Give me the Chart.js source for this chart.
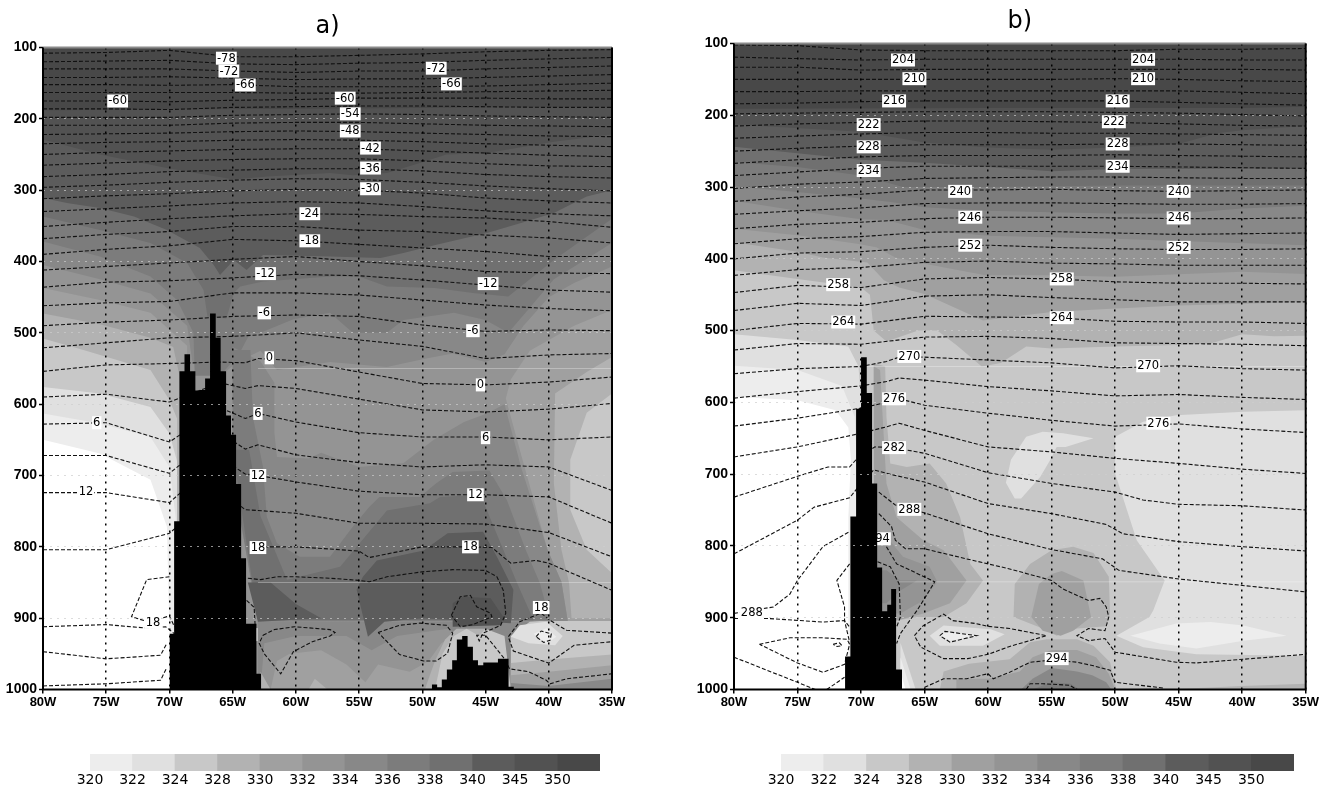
<!DOCTYPE html>
<html>
<head>
<meta charset="utf-8">
<title>Cross sections a) and b)</title>
<script src="https://cdn.jsdelivr.net/npm/chart.js@4"></script>
<style>
  html, body { margin: 0; background: #fff; }
  #page { position: relative; width: 1325px; height: 791px; overflow: hidden; }
  canvas { position: absolute; }
</style>
</head>
<body>
<div id="page">
  <canvas id="panelA" width="660" height="725" style="left:0;top:0"></canvas>
  <canvas id="panelB" width="634" height="725" style="left:691px;top:0"></canvas>
  <canvas id="barA" width="590" height="46" style="left:60px;top:745px"></canvas>
  <canvas id="barB" width="590" height="46" style="left:740px;top:745px"></canvas>
</div>
<script>
// colour bar
const barLabels = ['320','322','324','328','330','332','334','336','338','340','345','350']
const barColors = ['#ededed','#e0e0e0','#c8c8c8','#b2b2b2','#a0a0a0','#949494','#888888','#7c7c7c','#707070','#5c5c5c','#525252','#484848']

// ---- panel a: filled zones as [lon W, hPa], painted in list order
const aZone1 = [[80,650],[75.5,669],[71.5,706],[70.2,772],[70,921],[69.8,1000],[35,1000],[35,100],[80,100]]
const aZone2 = [[80,613],[75.5,627],[71.5,646],[70,688],[69.5,760],[69.5,1000],[35,1000],[35,100],[80,100]]
const aZone3 = [[80,576],[75.5,585],[71.5,604],[70,641],[69.4,680],[69.4,1000],[35,1000],[35,100],[80,100]]
const aZone4 = [[80,508],[76.8,524],[71.5,552],[70,594],[69.4,620],[69.4,1000],[35,1000],[35,100],[80,100]]
const aZone5 = [[80,473],[75.5,488],[71.5,507],[69.7,520],[69.2,560],[69.2,1000],[35,1000],[35,100],[80,100]]
const aZone6 = [[80,437],[75.5,454],[71.5,472],[68.6,518],[68.6,1000],[35,1000],[35,100],[80,100]]
const aEastA0 = [[35,468],[38,490],[41.5,525],[43,565],[43.4,592],[42.2,670],[40.1,804],[39,849],[38.5,904],[35,904]]
const aEastB2 = [[35,534],[37,555],[39.5,585],[39.6,711],[39,804],[38.4,850],[38.2,900],[35,900]]
const aEastC8 = [[35,585],[37,612],[38.3,678],[38.3,748],[37,804],[35,837]]
const aZone7 = [[80,405],[75.5,425],[71.5,445],[68.6,490],[68.2,540],[66,560],[64.5,540],[62.8,525],[61.5,552],[57.3,541],[52.8,548],[49.7,536],[47.6,529],[45,541],[43.5,530],[42,490],[40,450],[38,430],[35,407],[35,100],[80,100]]
const aZone8 = [[80,372],[75.5,393],[71.5,421],[69.4,454],[68.1,500],[68,560],[66,560],[64.5,530],[63.6,500],[62.8,500],[60.2,481],[57.3,472],[55.5,500],[52.8,500],[51.5,482],[47.5,472],[45,482],[43.2,500],[41.5,465],[39.6,425],[35,374],[35,100],[80,100]]
const aZone9 = [[80,337],[75.5,356],[71.5,374],[68.6,402],[67.3,440],[67,477],[65.5,480],[64.9,444],[64.4,435],[62.6,428],[57.3,421],[55,421],[52.8,435],[49,437],[46,444],[43.2,449],[39.6,398],[35,340],[35,100],[80,100]]
const aZone10 = [[80,311],[78.1,318],[75.5,325],[72.8,337],[70.2,356],[67.6,381],[66.5,405],[66,419],[64.9,398],[63.9,412],[62.6,391],[57.3,393],[53.3,395],[51.5,388],[48.8,376],[44.9,360],[42.2,346],[39.6,332],[37,309],[35,300],[35,100],[80,100]]
const aZone11 = [[80,229],[75.5,250],[70.2,269],[64.9,285],[62.3,281],[57.3,276],[55.5,279],[52.8,276],[50.2,262],[48.1,250],[44.9,248],[39.6,232],[35,222],[35,100],[80,100]]
const aZone12 = [[80,188],[60,186],[35,183],[35,100],[80,100]]
// low levels east of the ridge
const aLow88 = [[63,1000],[63,905],[41.5,905],[43,925],[43,1000]]
const aLow94 = [[62.8,1000],[62.5,935],[60,925],[56,925],[54,945],[52,925],[48,915],[47,925],[48,1000]]
const aLowA0 = [[62,1000],[61.5,960],[60.5,950],[58,945],[56,965],[54.5,990],[53.5,965],[51,975],[49.5,960],[48.5,935],[47.5,925],[47,1000]]
const aLowB2 = [[49.8,1000],[49,960],[48.2,930],[47.3,915],[45,915],[44,925],[43,1000]]
const aLowC8 = [[49,1000],[48.4,950],[47.5,925],[46.5,915],[45.5,925],[45,915],[43.5,925],[43,1000]]
const aLowEdge = [[62.8,975],[62,1000],[62.8,1000]]
const aLowSpot = [[59,1000],[58.5,985],[57.5,1000]]
const aRightC8 = [[43,925],[41.5,905],[39.9,903],[38.5,904],[35,904],[35,1000],[43,1000]]
const aRightE0 = [[42.3,910],[40.2,905],[38.9,925],[39.5,938],[41.6,935],[43,926]]
const aRightEd = [[41.2,922],[40.2,914],[39.4,926],[40.2,936]]
const aRightB2 = [[43,963],[40,958],[35,951],[35,1000],[43,1000]]
const aRightA0 = [[43,980],[40,975],[35,966],[35,1000],[43,1000]]
const aRight88 = [[43,991],[40,995],[35,985],[35,1000],[43,1000]]
// the warm dome near 50W
const aDome7 = [[65,520],[62.8,540],[61.7,570],[61.7,640],[61.5,674],[59,676],[58,668],[55,688],[51.5,683],[49.1,650],[46.7,625],[44.9,613],[43.5,600],[42.2,688],[40.1,804],[39,849],[38.5,904],[63,905],[65,700]]
const aDome8 = [[65,524],[63.6,524],[63.4,618],[62.6,688],[62.3,758],[61.5,795],[59.7,814],[57.3,814],[55.5,772],[54.2,744],[53.4,730],[50.2,730],[48.9,711],[47.6,695],[44.7,693],[43.3,735],[41.8,805],[40.7,851],[39.9,903],[60,903],[63,900],[65,700]]
const aDome9 = [[65,664],[63.7,664],[62.8,757],[60.7,846],[56.5,828],[52.8,749],[49.4,739],[48.6,730],[45.4,727],[42.5,851],[41.2,903],[63,903]]
const aDome10 = [[55.2,860],[54.7,842],[53.6,819],[49.9,805],[48,781],[45.2,779],[44.1,814],[42.8,860],[43,907],[45,905],[50,900],[53,905],[54.3,926]]
const aDome10w = [[63.8,850],[62,850],[60,880],[58,900],[63,905]]
const aDome11 = [[47.6,879],[46.8,870],[44.6,872],[43.6,898],[43.8,910],[47.6,912]]

// ridges: lon W at the start of each bin, hPa at its top
const aRidgeLon = [70,69.63,69.21,68.81,68.37,67.95,67.58,67.18,66.79,66.34,65.95,65.52,65.13,64.73,64.33,63.94,63.12,62.74]
const aRidgeTop = [922,764,554,530,554,581,580,564,473,507,554,616,643,712,816,908,978,1000]
const aRidge2Lon = [49.25,48.83,48.46,48.06,47.64,47.27,46.85,46.42,46,45.6,45.18,44.02,43.18,42.76]
const aRidge2Top = [993,997,986,972,959,930,925,940,959,966,962,957,996,1000]

// ---- panel a: dashed temperature contours, hPa at the columns below
const aColsHigh = [80,75,70,65,60,55,50,45,40,35]
const aRowsHigh = [
  [108,107,104,113,113,111,109,106,104,103],
  [120,119,118,123,124,122,121,118,116,114],
  [130,130,130,133,135,133,133,130,128,126],
  [142,142,141,143,145,144,144,142,140,138],
  [152,152,153,152,155,155,155,154,152,150],
  [163,163,163,163,164,164,163,162,161,160],
  [175,175,176,174,173,171,171,171,172,172],
  [186,186,187,184,183,182,182,183,184,184],
  [198,198,198,195,194,193,194,196,197,198],
  [209,209,209,206,205,205,207,209,210,211],
  [222,221,220,218,217,218,220,222,224,225],
  [235,233,232,230,229,230,232,235,237,239],
  [250,247,245,243,242,242,245,248,251,253],
  [265,262,259,257,256,256,259,263,266,267],
  [281,278,274,272,270,270,273,278,281,283],
  [296,293,289,286,284,285,289,294,298,301],
  [312,308,305,301,299,300,304,311,315,318],
  [330,326,322,318,316,318,323,329,333,336],
  [351,345,340,336,333,334,337,339,344,352],
  [368,362,358,351,351,356,358,363,367,374],
  [390,383,378,369,371,376,381,386,393,393],
  [412,407,402,397,393,400,406,414,416,417],
  [436,429,427,423,418,420,426,433,440,443],
  [462,458,456,444,444,447,454,461,466,469],
  [490,485,482,477,475,477,489,498,496,497],
  [521,514,507,505,500,510,519,536,531,529]
]
const aColsLow = [80,75,70,66,64,63,60,55,50,45,40,35]
const aRowsLow = [
  [554,545,543,541,542,536,539,555,571,573,569,562],
  [590,586,597,570,578,574,578,593,608,611,607,599],
  [628,626,653,605,620,613,625,640,646,646,650,646],
  [672,672,697,640,663,657,671,682,688,685,688,721],
  [724,724,738,675,698,700,709,722,727,727,730,767],
  [804,804,781,720,748,749,753,767,767,768,780,814]
]
const aLine18e = [[63,800],[60,800],[57.3,803],[55,806],[54.2,815],[50,800],[46,800],[44.5,801],[43,823],[41,819],[40,823],[35,861]]
const aLine18w = [[70,842],[71.8,846],[73,898],[71.7,905],[70,897],[69.6,912]]
const aLine21e = [[63.8,844],[62.8,846],[61.5,842],[60,842],[57.3,844],[55,847],[54.2,849],[52.8,842],[50,835],[47.6,832],[45,833],[44.1,842],[43.6,861],[43.4,893],[43.8,910],[45.2,921],[45.5,932],[45.7,924],[45,924],[43.5,957],[43.1,971],[41.6,975],[40.2,987],[39.9,992],[38.6,985],[35,978]]
const aLine21w = [[80,912],[75,909],[71.7,914],[70.3,912],[69.6,922]]
const aLine24w = [[80,947],[75,957],[70.7,952],[70.2,935]]
const aLine27w = [[80,995],[75,992],[70.7,987],[70.2,969]]
const aLineSpur = [[63.9,875],[63.3,885],[63.2,918]]
const aLoopW = [[62.6,924],[61.7,916],[60.1,912],[57.3,916],[56.9,920],[57.3,925],[58.7,933],[60.2,947],[61.2,978],[62.5,950],[62.9,935],[62.6,924]]
const aLoopM = [[53.5,920],[51.8,910],[50.2,907],[48.1,910],[47.6,921],[48,949],[48.9,960],[49.9,960],[51.8,951],[53.5,920]]
const aLoopN = [[47.7,896],[47,870],[46.2,868],[45.7,884],[44.6,893],[44.5,898],[46,909],[47,912],[47.7,896]]
const aLoopE1 = [[35,921],[38.6,917],[39.9,903],[40.6,893],[42.3,905],[43.2,926],[42.8,946],[40,963],[38,938],[35,933]]
const aLoopE2 = [[41,926],[40.6,918],[39.8,922],[39.9,931],[40.4,934],[41,926]]

const aLabels = [
  ['-78',65.5,115],['-72',65.3,133],['-66',64,152.5],['-60',74.1,175],['-60',56.1,171],['-54',55.7,193],
  ['-48',55.7,217],['-42',54.1,241],['-36',54.1,269],['-30',54.1,298],['-24',58.9,333],['-18',58.9,371],
  ['-12',62.4,417],['-6',62.5,472],['0',62.1,535],['6',63,613],['12',63,700],['18',63,801],
  ['-72',48.9,129],['-66',47.7,151],['-12',44.8,431],['-6',46,497],['0',45.4,573],['6',45,647],
  ['12',45.8,727],['18',46.2,800],['18',40.6,885],['6',75.75,626],['12',76.6,723],['18',71.3,906]
]
const aLabelsBehind = [['24',63.7,923]]

// ---- panel b: filled zones
const bZone1 = [[80,592],[75,597],[72,611],[71,635],[70.8,680],[71,760],[71,1000],[35,1000],[35,100],[80,100]]
const bZone2 = [[80,549],[75,555],[71.5,577],[70.5,620],[70.3,700],[70.2,760],[70.2,1000],[35,1000],[35,100],[80,100]]
const bZone3 = [[80,505],[75,513],[71,522],[70.2,550],[70,600],[70,1000],[35,1000],[35,100],[80,100]]
const bZone4 = [[80,416],[75,428],[70,440],[69.3,450],[69,500],[68,515],[65.5,500],[64,500],[62.5,520],[60.5,550],[59,545],[57,522],[55,525],[50,522],[45,520],[42.5,518],[40,505],[37.5,508],[35,507],[35,100],[80,100]]
const bZone5 = [[80,377],[75,390],[73,398],[69.5,405],[68.2,430],[67,440],[65,449],[60.4,486],[58.3,481],[55,474],[50.7,470],[45,465],[35,460],[35,100],[80,100]]
const bZone6 = [[80,358],[75,367],[70.3,379],[68.8,384],[67.3,398],[65,407],[60.2,423],[55,423],[50,425],[40,418],[35,421],[35,100],[80,100]]
const bZone7 = [[80,319],[75,333],[70,345],[68,346],[65,360],[60,368],[50,372],[45,375],[35,381],[35,100],[80,100]]
const bZone8 = [[80,299],[75,307],[70,316],[67.5,321],[65,328],[60,333],[55,335],[50,337],[45,337],[40,330],[35,326],[35,100],[80,100]]
const bZone9 = [[80,265],[75,272],[70,284],[66.7,300],[60,300],[50,298],[35,298],[35,100],[80,100]]
const bZone10 = [[80,244],[75,253],[70,262],[65,266],[60,272],[55,278],[50,275],[45,275],[35,274],[35,100],[80,100]]
const bZone11 = [[80,213],[70,223],[65,238],[60,245],[55,248],[50,245],[45,240],[42,225],[40,221],[35,215],[35,100],[80,100]]
const bZone12 = [[80,191],[60,190],[40,190],[35,188],[35,100],[80,100]]
const bEastE0 = [[50,648],[47.8,627],[45.2,618],[39.9,613],[35,611],[35,953],[43.6,951],[47.8,941],[49.9,925],[47.3,899],[47,890],[46.1,848],[48.3,792],[50,699]]
const bEastEd = [[48.8,925],[45.2,908],[42.5,906],[39.9,911],[36.5,925],[39.9,932],[43.6,943],[46.5,936]]
const bEastB2 = [[46,1000],[40,995],[35,992],[35,1000]]
const bMidE0 = [[57,648],[55.7,641],[54.1,643],[51.7,650],[53.9,662],[54.6,662],[55.1,680],[55.9,704],[57.4,734],[57.9,734],[58.6,712],[58.2,680]]
const bLeeB2 = [[68.8,546],[68.1,550],[68,620],[67.7,685],[66.4,690],[64.6,685],[63.3,713],[62.2,760],[61.4,825],[60.4,848],[61.7,880],[63.5,899],[65.6,899],[67.2,904],[69,904],[69,546]]
const bLeeA0 = [[68.5,555],[68.3,620],[68,713],[67.2,760],[65.1,792],[63.5,806],[61.7,848],[63,880],[65.1,894],[67.2,904],[69,904],[69,550]]
const bLee94 = [[68,787],[66.7,815],[64.6,829],[64,850],[65.1,876],[66.9,894],[69,894],[69,787]]
const bLee88 = [[68,834],[66.9,848],[65.6,848],[66.9,862],[68,880],[69,880],[69,834]]
const bFootE0 = [[66.9,935],[65.7,1000],[66.9,1000]]
const bFootEd = [[66.9,955],[66.1,1000],[66.9,1000]]
const bFootWh = [[66.9,975],[66.5,1000],[66.9,1000]]
const bLowE0 = [[64.6,925],[63.5,911],[59.8,916],[58.7,923],[60.4,939],[62.5,939],[63.8,939]]
const bLowEd = [[63.8,925],[63.3,920],[60.6,925],[63,932]]
const bDomeB2 = [[58,899],[57.9,853],[56.7,825],[55,806],[53.3,801],[51.7,810],[50.5,843],[50.4,894],[50.7,912],[53,915],[54.6,925],[55.7,915]]
const bDomeA0 = [[56.6,899],[56,853],[55,839],[54.2,835],[52.5,848],[52,890],[51.9,899],[53.3,918],[54.3,925],[55.7,918]]
const bBaseB2 = [[63.8,1000],[63.5,975],[61.5,964],[58.3,958],[56.7,934],[55.4,930],[53,930],[51.7,939],[50.4,962],[49.9,1000]]
const bBaseA0 = [[62.5,1000],[62.5,985],[60,985],[57.5,975],[56.5,955],[55,945],[53,945],[51.5,955],[50.5,978],[50,1000]]
const bBase88 = [[57.4,1000],[56.5,985],[55,970],[53,975],[51.8,980],[50.7,990],[50.3,1000]]
const bBase7c = [[56.5,1000],[55,990],[53.5,992],[52.8,1000]]

const bRidgeLon = [71.26,70.84,70.39,70,69.55,69.13,68.73,68.34,67.94,67.63,67.24,66.77]
const bRidgeTop = [954,759,609,537,587,713,830,891,882,860,972,1000]

// ---- panel b: dashed temperature contours
const bColsHigh = [80,75,70,65,60,55,50,45,40,35]
const bRowsHigh = [
  [102,103,109,110,110,110,110,108,108,107],
  [119,121,123,122,122,122,122,122,123,123],
  [133,133,137,136,136,136,136,136,136,137],
  [150,150,150,150,150,150,149,150,152,153],
  [167,167,166,166,166,166,166,166,168,170],
  [184,183,181,180,180,180,180,182,184,186],
  [198,197,196,195,195,195,196,197,199,201],
  [215,212,210,208,208,209,210,212,214,215],
  [232,229,226,224,224,225,225,226,227,228],
  [250,246,243,241,241,241,240,240,241,242],
  [267,262,258,256,256,256,255,256,257,258],
  [284,279,274,271,271,271,271,272,273,274],
  [302,296,293,288,287,286,286,287,288,288],
  [320,314,310,304,304,303,305,306,305,304],
  [338,333,329,323,322,322,323,324,324,323],
  [358,352,349,344,342,342,343,344,344,343],
  [379,372,369,363,362,362,364,366,365,364],
  [400,392,390,384,381,384,386,387,387,386],
  [423,415,412,405,403,406,407,409,409,409],
  [447,437,440,428,426,428,432,434,434,435],
  [472,462,465,452,450,454,457,460,460,460],
  [500,490,491,480,481,482,487,488,488,490],
  [527,518,519,509,508,511,517,518,519,521]
]
const bColsLow = [80,75,70,68,67,65,60,55,50,45,40,35]
const bRowsLow = [
  [560,553,550,543,537,537,541,545,552,549,553,555],
  [594,585,577,571,566,569,578,584,591,589,593,596],
  [633,622,608,600,595,604,615,625,633,630,637,642],
  [676,662,643,634,629,639,662,669,678,685,693,699]
]
const bLine282 = [[80,732],[75,703],[72.6,690],[70.9,690],[70.2,676],[68.9,662],[67.4,663],[65,671],[60,698],[55,713],[50,725],[47.8,736],[45,742],[40,744],[35,750]]
const bLine285 = [[80,811],[75,764],[73.7,746],[70.9,733],[70,713],[69,694],[67.5,701],[65,711],[60,741],[55,755],[50.7,770],[49.4,783],[45,794],[40,801],[35,807]]
const bLine288w = [[80,894],[76.9,885],[75.6,867],[75,848],[73,801],[71.9,790],[70.9,780]]
const bLine288e = [[68.6,725],[67.3,743],[65,754],[60,783],[55,805],[51,818],[49.7,834],[45,846],[35,864]]
const bLine291e = [[68.6,755],[67.6,773],[67.3,792],[66.5,804],[65,804],[61.7,818],[58.3,832],[55,848],[54.1,860],[52.1,876],[51.2,873],[50.7,885],[50.5,899],[50.8,918],[52.1,915],[53,925],[52.1,932],[50.8,929],[50,948],[45.2,962],[43.6,963],[35,951]]
const bLine294 = [[68,801],[67.2,825],[66.1,834],[64.2,850],[65.1,876],[65.6,890],[66.9,922],[67.2,936]]
const bLine297 = [[68.7,822],[67.7,829],[67,853],[66.9,899],[67.2,913]]
const bLine291w = [[70.9,825],[71.9,848],[71.3,885],[71.3,904],[70.9,934]]
const bLineWest = [[80,901],[77.4,901],[73,906],[71.3,904],[70.9,913]]
const bLoopWest = [[78,937],[75.6,928],[73,928],[71.1,930],[70.9,937],[71.3,965],[73,976],[75,963],[78,937]]
const bLoopTiny = [[72.2,937],[71.7,935],[71.5,939],[71.9,940],[72.2,937]]
const bFloorW1 = [[80,955],[75,990],[73.6,1000]]
const bFloorW2 = [[72.7,1000],[71.3,983]]
const bLoopLow = [[65.8,925],[65.1,911],[63.5,895],[62.8,904],[61,908],[60,912],[58.3,915],[55.4,925],[58.3,940],[60,951],[61.6,957],[63.5,957],[65.3,941],[65.8,925]]
const bLoopIn = [[63.8,925],[63.4,919],[60.9,925],[63,934],[63.8,925]]
const bFloorE = [[65,997],[63.5,985],[61.7,985],[60,978],[59.6,985],[58.3,976],[56.7,962],[55,959],[53,962],[51.7,967],[50.4,973],[50,990],[46.2,998]]
const bFloorIn = [[57,1000],[56.7,992],[55.7,992],[53.6,994],[53,1000]]

const bLabels = [
  ['204',66.7,123],['210',65.8,149],['216',67.4,180],['222',69.4,213],['228',69.4,244],['234',69.4,277],
  ['240',62.2,306],['246',61.4,342],['252',61.4,381],['258',71.8,436],['264',71.4,488],
  ['204',47.8,122],['210',47.8,149],['216',49.8,180],['222',50.1,209],['228',49.8,240],['234',49.8,271],
  ['240',45,306],['246',45,343],['252',45,384],['258',54.2,428],['264',54.2,482],
  ['270',66.2,536],['276',67.4,595],['282',67.4,663],['288',66.2,749],['288',78.6,893],
  ['270',47.4,549],['276',46.6,629],['294',54.6,957]
]
const bLabelsBehind = [['294',68.6,790]]

// thin pale seams in the shading
const aSeams = [[[63,550],[35,550]],[[63,850],[35,850]]]
const bSeams = [[[70,550],[35,550]],[[67,850],[35,850]]]

const toPoints = pts => pts.map(p => ({x: p[0], y: p[1]}))
const rowPoints = (cols, row) => cols.map((c, i) => ({x: c, y: row[i]}))

function shade(pts, color) {
  return {data: toPoints(pts), showLine: true, pointRadius: 0, borderWidth: 0, borderColor: color,
    backgroundColor: color, fill: 'shape', tension: 0}
}
function dashed(points) {
  return {data: points, showLine: true, pointRadius: 0, borderWidth: 1.1, borderColor: '#111',
    borderDash: [4, 2], fill: false, tension: 0}
}
function seam(pts) {
  return {data: toPoints(pts), showLine: true, pointRadius: 0, borderWidth: 1,
    borderColor: 'rgba(255,255,255,0.3)', fill: false, tension: 0}
}
function ridge(lon, top) {
  return {data: lon.map((l, i) => ({x: l, y: top[i]})), showLine: true, pointRadius: 0, borderWidth: 0,
    backgroundColor: '#000', borderColor: '#000', stepped: true, fill: {value: 1000}}
}

function drawLabel(chart, item) {
  const ctx = chart.ctx
  const x = chart.scales.x.getPixelForValue(item[1])
  const y = chart.scales.y.getPixelForValue(item[2])
  ctx.save()
  ctx.font = '11.5px "DejaVu Sans"'
  const w = ctx.measureText(item[0]).width + 2
  ctx.fillStyle = '#fff'
  ctx.fillRect(x - w / 2, y - 6.5, w, 13)
  ctx.fillStyle = '#000'
  ctx.textAlign = 'center'
  ctx.textBaseline = 'middle'
  ctx.fillText(item[0], x, y + 0.5)
  ctx.restore()
}

function barOrWhite(i) { return i === 0 ? '#ffffff' : barColors[i - 1] }

function makePanel(id, title, titleTop, areaTop, rightPad, shades, lines, seams, ridges, labels, behind) {
  let datasets = []
  shades.forEach(s => datasets.push(shade(s[0], barOrWhite(s[1]))))
  seams.forEach(s => datasets.push(seam(s)))
  lines.forEach(l => datasets.push(dashed(l)))
  const lastLine = datasets.length - 1
  ridges.forEach(r => datasets.push(ridge(r[0], r[1])))
  datasets.forEach((d, i) => { d.order = datasets.length - i })

  const panelLabels = {
    id: 'panelLabels',
    afterDatasetDraw(chart, args) {
      if (args.index === lastLine) behind.forEach(b => drawLabel(chart, b))
    },
    afterDraw(chart) {
      const a = chart.chartArea
      const ctx = chart.ctx
      labels.forEach(l => drawLabel(chart, l))
      ctx.save()
      ctx.lineWidth = 2
      ctx.strokeStyle = '#8a8a8a'
      ctx.beginPath(); ctx.moveTo(a.left, a.top); ctx.lineTo(a.right, a.top); ctx.stroke()
      ctx.strokeStyle = '#000'
      ctx.beginPath()
      ctx.moveTo(a.left, a.top); ctx.lineTo(a.left, a.bottom); ctx.lineTo(a.right, a.bottom); ctx.lineTo(a.right, a.top)
      ctx.stroke()
      ctx.restore()
    }
  }

  return new Chart(document.getElementById(id), {
    type: 'scatter',
    data: {datasets},
    plugins: [panelLabels],
    options: {
      responsive: false,
      animation: false,
      events: [],
      layout: {padding: {right: rightPad}},
      plugins: {
        legend: {display: false},
        tooltip: {enabled: false},
        title: {
          display: true, text: title, fullSize: false, color: '#000',
          font: {family: 'DejaVu Sans', size: 24, weight: 'normal', lineHeight: 1.2},
          padding: {top: titleTop, bottom: areaTop - titleTop - 28.8}
        }
      },
      scales: {
        x: {
          type: 'linear', min: 35, max: 80, reverse: true,
          afterFit(s) { s.height = 725 - 689.5 },
          ticks: {stepSize: 5, autoSkip: false, maxRotation: 0, padding: 1, color: '#000',
            font: {family: 'Liberation Sans', size: 13, weight: 'bold'}, callback: v => v + 'W'},
          grid: {color: '#000', lineWidth: 1.5, z: 1, tickColor: '#000', tickLength: 4, tickWidth: 1.5},
          border: {display: false, dash: [2, 5]}
        },
        y: {
          type: 'linear', min: 100, max: 1000, reverse: true,
          afterFit(s) { s.width = 43 },
          ticks: {stepSize: 100, autoSkip: false, padding: 2, color: '#000',
            font: {family: 'Liberation Sans', size: 14, weight: 'bold'}, callback: v => String(v)},
          grid: {color: 'rgba(205,205,205,0.7)', lineWidth: 1, z: 1, tickColor: '#000', tickLength: 4, tickWidth: 1.5},
          border: {display: false, dash: [2, 5]}
        }
      }
    }
  })
}

function makeBar(id, left, right) {
  return new Chart(document.getElementById(id), {
    type: 'bar',
    data: {datasets: [{
      data: barColors.map((c, i) => ({x: i + 0.5, y: 1})),
      backgroundColor: barColors, barPercentage: 1, categoryPercentage: 1
    }]},
    options: {
      responsive: false,
      animation: false,
      events: [],
      layout: {padding: {left, right, top: 9}},
      plugins: {legend: {display: false}, tooltip: {enabled: false}},
      scales: {
        x: {
          type: 'linear', min: 0, max: 12, offset: false,
          afterFit(s) { s.height = 20 },
          ticks: {stepSize: 1, autoSkip: false, maxRotation: 0, padding: 1, color: '#000',
            font: {family: 'DejaVu Sans', size: 14}, callback: v => barLabels[v] || ''},
          grid: {display: false, drawTicks: false, offset: false},
          border: {display: false}
        },
        y: {display: false, min: 0, max: 1}
      }
    }
  })
}

const aShades = [
  [aZone1,1],[aZone2,2],[aZone3,3],[aZone4,4],[aZone5,5],[aZone6,6],
  [aEastA0,5],[aEastB2,4],[aEastC8,3],
  [aZone7,7],[aZone8,8],[aZone9,9],[aZone10,10],[aZone11,11],[aZone12,12],
  [aLow88,7],[aLow94,6],[aLowA0,5],[aLowB2,4],[aLowC8,3],[aLowEdge,4],[aLowSpot,4],
  [aRightC8,3],[aRightE0,2],[aRightEd,1],[aRightB2,4],[aRightA0,5],[aRight88,7],
  [aDome7,7],[aDome8,8],[aDome9,9],[aDome10,10],[aDome10w,10],[aDome11,11]
]
const aLines = aRowsHigh.map(r => rowPoints(aColsHigh, r))
  .concat(aRowsLow.map(r => rowPoints(aColsLow, r)))
  .concat([aLine18e, aLine18w, aLine21e, aLine21w, aLine24w, aLine27w, aLineSpur, aLoopW, aLoopM, aLoopN, aLoopE1, aLoopE2].map(toPoints))

const bShades = [
  [bZone1,1],[bZone2,2],[bZone3,3],[bEastE0,2],[bEastEd,1],[bEastB2,4],[bMidE0,2],
  [bFootE0,2],[bFootEd,1],[bFootWh,0],
  [bBaseB2,4],[bBaseA0,5],[bBase88,7],[bBase7c,8],
  [bLowE0,2],[bLowEd,1],
  [bLeeB2,4],[bLeeA0,5],[bLee94,6],[bLee88,7],[bDomeB2,4],[bDomeA0,5],
  [bZone4,4],[bZone5,5],[bZone6,6],[bZone7,7],[bZone8,8],[bZone9,9],[bZone10,10],[bZone11,11],[bZone12,12]
]
const bLines = bRowsHigh.map(r => rowPoints(bColsHigh, r))
  .concat(bRowsLow.map(r => rowPoints(bColsLow, r)))
  .concat([bLine282, bLine285, bLine288w, bLine288e, bLine291e, bLine294, bLine297, bLine291w, bLineWest, bLoopWest, bLoopTiny, bFloorW1, bFloorW2, bLoopLow, bLoopIn, bFloorE, bFloorIn].map(toPoints))

makePanel('panelA', 'a)', 12.5, 47.5, 48, aShades, aLines, aSeams, [[aRidgeLon, aRidgeTop], [aRidge2Lon, aRidge2Top]], aLabels, aLabelsBehind)
makePanel('panelB', 'b)', 7, 43.5, 19.3, bShades, bLines, bSeams, [[bRidgeLon, bRidgeTop]], bLabels, bLabelsBehind)
makeBar('barA', 30, 50)
makeBar('barB', 41, 36)
</script>
</body>
</html>
